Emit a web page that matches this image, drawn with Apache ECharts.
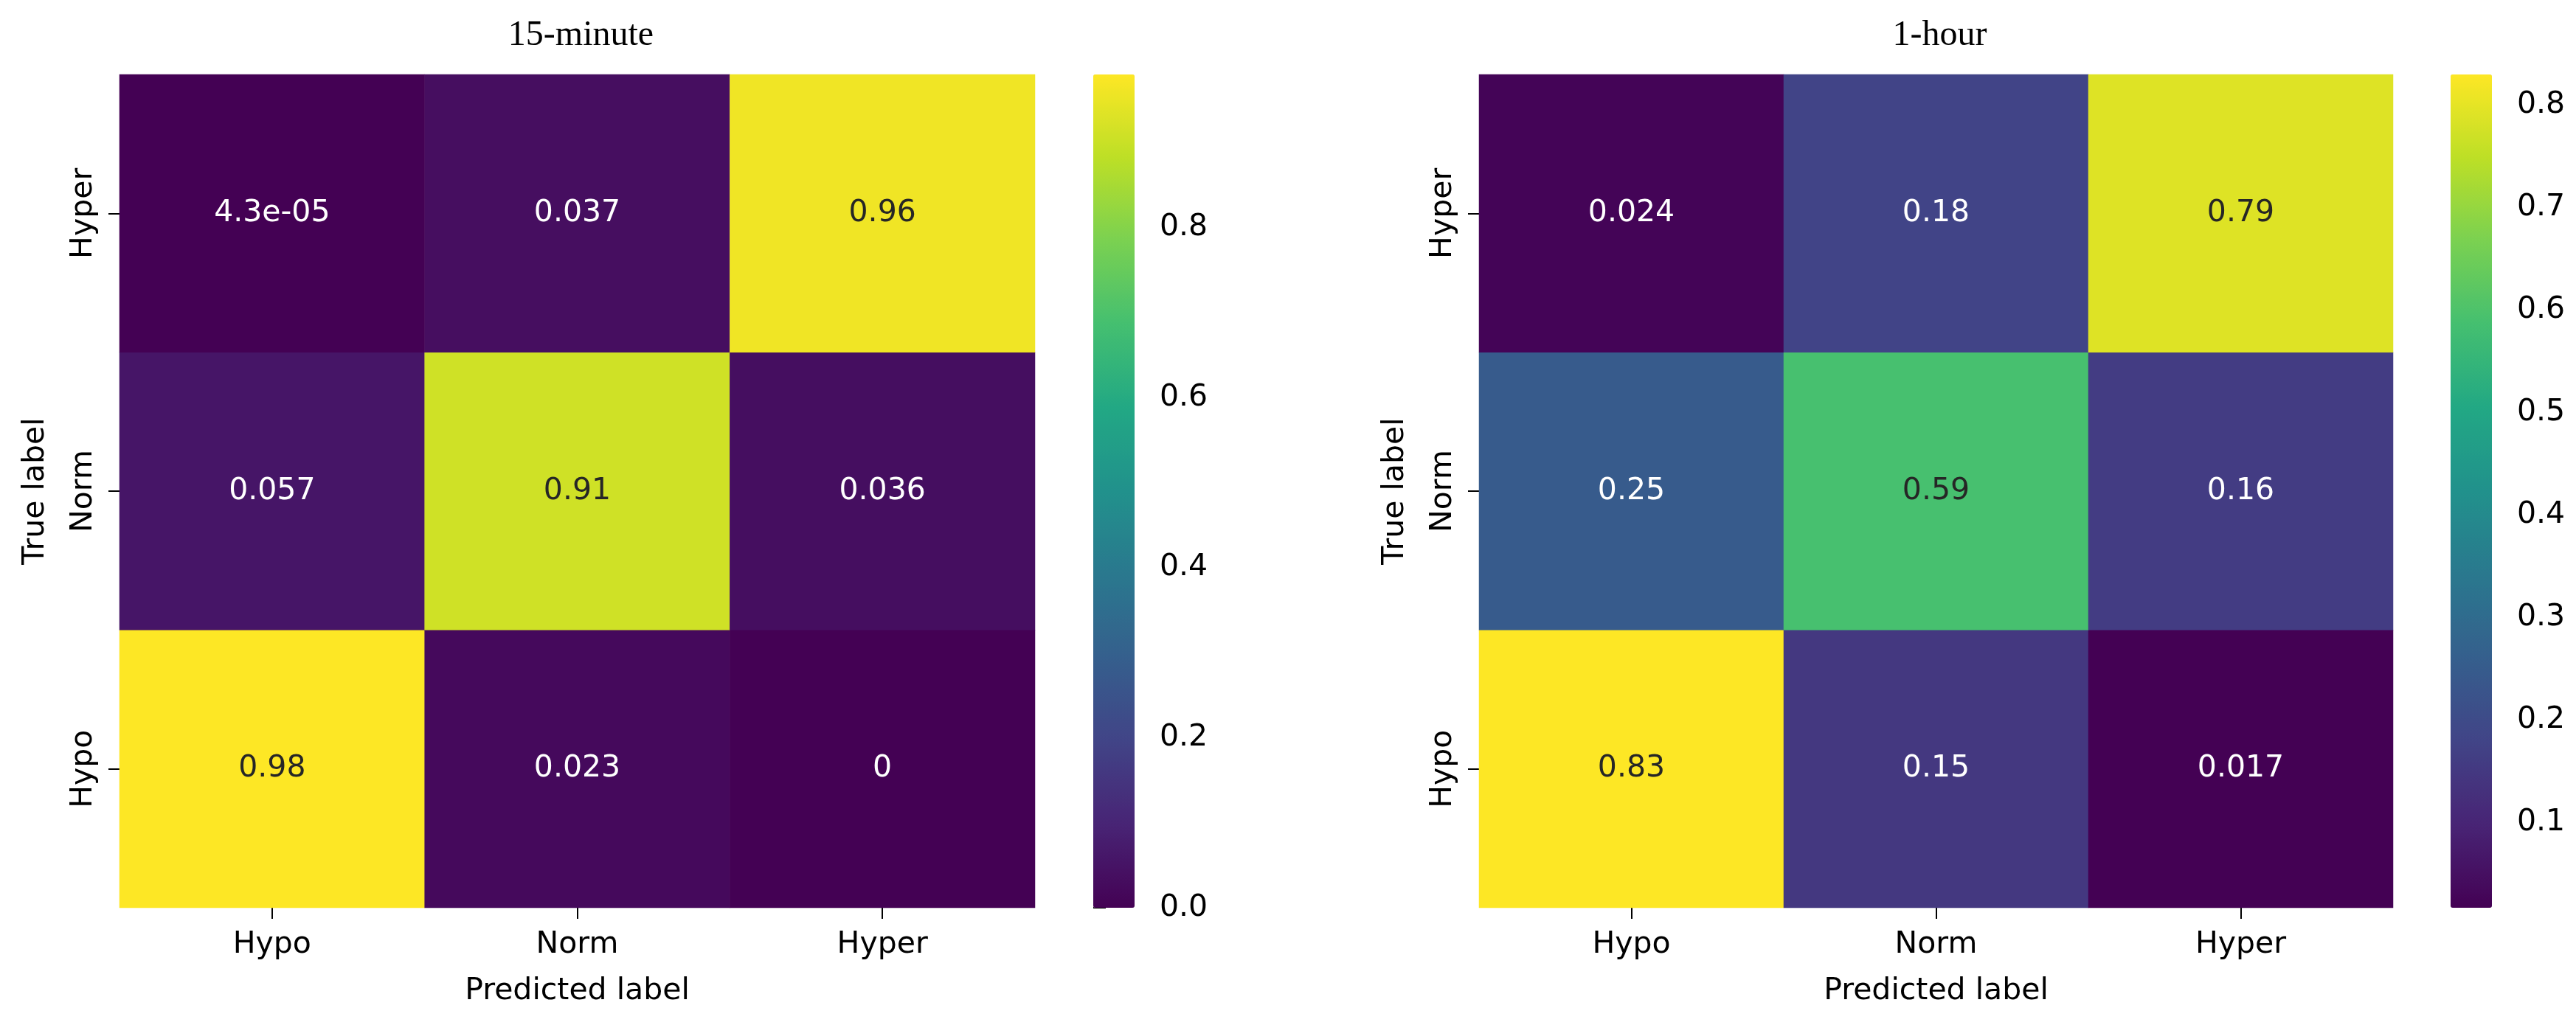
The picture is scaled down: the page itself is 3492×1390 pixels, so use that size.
<!DOCTYPE html>
<html><head><meta charset="utf-8">
<script src="https://cdn.jsdelivr.net/npm/echarts@6/dist/echarts.min.js"></script>
<style>html,body{margin:0;padding:0;background:#fff}#c{width:3492px;height:1390px}</style>
</head><body><div id="c"></div>
<script>
// ---- data ----
const classes = ['Hypo', 'Norm', 'Hyper'];          // bottom -> top on y, left -> right on x
const titles = ['15-minute', '1-hour'];
// rows = true label (Hypo, Norm, Hyper), cols = predicted label (Hypo, Norm, Hyper)
const cm15 = [
  [0.98, 0.023, 0],
  [0.057, 0.91, 0.036],
  [0.000043, 0.037, 0.96]
];
const cm60 = [
  [0.83, 0.15, 0.017],
  [0.25, 0.59, 0.16],
  [0.024, 0.18, 0.79]
];
const cbTicks15 = [0.0, 0.2, 0.4, 0.6, 0.8];
const cbTicks60 = [0.1, 0.2, 0.3, 0.4, 0.5, 0.6, 0.7, 0.8];

// ---- style ----
const viridis = ['#440154','#482475','#414487','#355f8d','#2a788e','#21918c','#22a884','#44bf70','#7ad151','#bddf26','#fde725'];
const FONT = 'DejaVu Sans';
const FS = 41;

function hex2rgb(h){return [parseInt(h.slice(1,3),16),parseInt(h.slice(3,5),16),parseInt(h.slice(5,7),16)];}
function colorAt(t){
  t = Math.max(0, Math.min(1, t));
  const p = t * (viridis.length - 1), i = Math.min(Math.floor(p), viridis.length - 2), f = p - i;
  const a = hex2rgb(viridis[i]), b = hex2rgb(viridis[i+1]);
  return a.map((v,k)=>v + (b[k]-v)*f);
}
function lum(rgb){
  const c = rgb.map(v=>{v/=255; return v <= 0.03928 ? v/12.92 : Math.pow((v+0.055)/1.055, 2.4);});
  return 0.2126*c[0] + 0.7152*c[1] + 0.0722*c[2];
}
function fmtG(v){
  if (v === 0) return '0';
  const e = Math.floor(Math.log10(Math.abs(v)));
  if (e < -4 || e >= 2) {
    let s = v.toExponential(1);
    return s.replace(/e([+-])(\d)$/, 'e$10$2');
  }
  return String(parseFloat(v.toPrecision(2)));
}
function flat(m){ const a=[]; m.forEach(r=>r.forEach(v=>a.push(v))); return a; }

const mats = [cm15, cm60];
const ranges = mats.map(m => { const f = flat(m); return [Math.min(...f), Math.max(...f)]; });
const cbTicks = [cbTicks15, cbTicks60];

const gridBoxes = [
  {left: 162, top: 101, width: 1241, height: 1130},
  {left: 2005, top: 101, width: 1239, height: 1130}
];
const cbBoxes = [
  {left: 1482, top: 101, width: 56, height: 1130},
  {left: 3322, top: 101, width: 56, height: 1130}
];

const option = {
  backgroundColor: '#fff',
  animation: false,
  title: titles.map((t, i) => ({
    text: t,
    left: gridBoxes[i].left + gridBoxes[i].width / 2,
    top: 19,
    textAlign: 'center',
    textStyle: {fontFamily: 'Liberation Serif', fontSize: 48, fontWeight: 'normal', color: '#000'}
  })),
  grid: [...gridBoxes, ...cbBoxes],
  xAxis: [
    ...[0,1].map(i => ({
      type: 'category', gridIndex: i, data: classes,
      name: 'Predicted label', nameLocation: 'middle', nameGap: 93,
      nameTextStyle: {fontFamily: FONT, fontSize: FS, color: '#000'},
      axisLine: {show: false},
      axisTick: {show: true, alignWithLabel: true, length: 15, lineStyle: {color: '#000', width: 2}},
      axisLabel: {fontFamily: FONT, fontSize: FS, color: '#000', margin: 30},
      splitLine: {show: false}, splitArea: {show: false}
    })),
    ...[2,3].map(i => ({type: 'value', gridIndex: i, show: false, min: 0, max: 1}))
  ],
  yAxis: [
    ...[0,1].map(i => ({
      type: 'category', gridIndex: i, data: classes,
      name: 'True label', nameLocation: 'middle', nameGap: 93, nameRotate: 90,
      nameTextStyle: {fontFamily: FONT, fontSize: FS, color: '#000'},
      axisLine: {show: false},
      axisTick: {show: true, alignWithLabel: true, length: 15, lineStyle: {color: '#000', width: 2}},
      axisLabel: {fontFamily: FONT, fontSize: FS, color: '#000', margin: 28, rotate: 90},
      splitLine: {show: false}, splitArea: {show: false}
    })),
    ...[0,1].map(i => ({
      type: 'value', gridIndex: i + 2, position: 'right',
      min: ranges[i][0], max: ranges[i][1],
      axisLine: {show: false},
      splitLine: {show: false},
      axisTick: {show: true, length: 17, customValues: cbTicks[i], lineStyle: {color: '#000', width: 2}},
      axisLabel: {show: true, customValues: cbTicks[i], margin: 34, fontFamily: FONT, fontSize: FS, color: '#000',
                  formatter: v => Number(v).toFixed(1)}
    }))
  ],
  visualMap: [0,1].map(i => ({
    type: 'continuous', seriesIndex: i,
    min: ranges[i][0], max: ranges[i][1],
    inRange: {color: viridis},
    calculable: false, hoverLink: false, realtime: false,
    orient: 'vertical',
    left: cbBoxes[i].left, top: cbBoxes[i].top,
    itemWidth: cbBoxes[i].width, itemHeight: cbBoxes[i].height,
    padding: 0,
    formatter: () => '',
    textStyle: {color: 'rgba(0,0,0,0)', fontSize: 1}
  })),
  series: mats.map((m, i) => ({
    type: 'heatmap', xAxisIndex: i, yAxisIndex: i,
    itemStyle: {borderWidth: 0},
    emphasis: {disabled: true},
    label: {show: true, fontFamily: FONT, fontSize: FS, formatter: p => fmtG(p.value[2])},
    data: m.flatMap((row, r) => row.map((v, c) => {
      const t = (v - ranges[i][0]) / (ranges[i][1] - ranges[i][0]);
      const dark = lum(colorAt(t)) > 0.395;
      return {value: [c, r, v], label: {color: dark ? '#262626' : '#ffffff'}};
    }))
  }))
};

const chart = echarts.init(document.getElementById('c'), null, {renderer: 'canvas'});
chart.setOption(option);
</script>
</body></html>
